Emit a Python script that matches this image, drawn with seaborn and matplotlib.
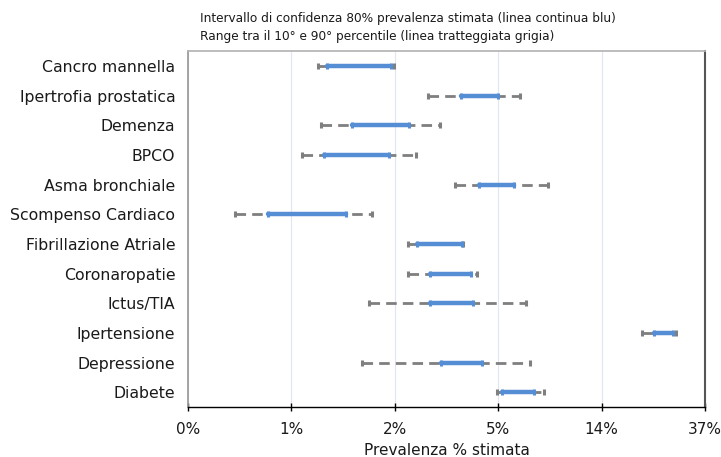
import numpy as np
import pandas as pd
import matplotlib
matplotlib.use("Agg")
import matplotlib.pyplot as plt
import seaborn as sns

# Dati (prevalenza in %)
patologie = [
    "Cancro mannella", "Ipertrofia prostatica", "Demenza", "BPCO",
    "Asma bronchiale", "Scompenso Cardiaco", "Fibrillazione Atriale",
    "Coronaropatie", "Ictus/TIA", "Ipertensione", "Depressione", "Diabete",
]
p10 = [0.87, 2.52, 0.90, 0.75, 3.27, 0.39, 2.09, 2.08, 1.43, 20.1, 1.33, 4.93]
ic_low = [0.95, 3.48, 1.21, 0.92, 4.13, 0.54, 2.27, 2.57, 2.58, 22.5, 2.86, 5.17]
ic_high = [1.76, 4.98, 2.11, 1.74, 5.78, 1.14, 3.52, 3.83, 3.89, 27.0, 4.24, 7.06]
p90 = [1.81, 6.16, 2.83, 2.24, 8.06, 1.47, 3.56, 4.05, 6.54, 27.9, 6.75, 7.75]

tick_vals = 100 * np.exp(np.arange(-6, 0))

pos = list(range(len(patologie)))
df_range = pd.DataFrame({
    "patologia": patologie * 2,
    "pos": pos * 2,
    "valore": p10 + p90,
})
df_ic = pd.DataFrame({
    "patologia": patologie * 2,
    "pos": pos * 2,
    "valore": ic_low + ic_high,
})

sns.set_theme(style="white")
plt.rcParams["font.family"] = ["DejaVu Sans"]

fig = plt.figure(figsize=(7.21, 4.57), dpi=100)
ax = fig.add_axes([0.2607, 0.1094, 0.7171, 0.779])

grigio = "#7f7f7f"
blu = "#558ed5"

sns.lineplot(
    data=df_range, x="valore", y="pos", units="patologia", estimator=None,
    sort=False, color=grigio, linewidth=2.0, dashes=False, ax=ax,
    marker="|", markersize=5, markeredgewidth=2.2, markeredgecolor=grigio,
)
for line in ax.lines:
    line.set_dashes((3.8, 2.2))

sns.lineplot(
    data=df_ic, x="valore", y="pos", units="patologia", estimator=None,
    sort=False, color=blu, linewidth=3.2, ax=ax,
    marker="|", markersize=4, markeredgewidth=2.2, markeredgecolor=blu,
)

ax.set_xscale("log", base=np.e)
ax.set_xlim(tick_vals[0], tick_vals[-1])
ax.set_xticks(tick_vals)
ax.set_xticklabels([f"{t:.0f}%" for t in tick_vals])
ax.minorticks_off()
ax.set_ylim(len(patologie) - 0.5, -0.5)
ax.set_yticks(pos)
ax.set_yticklabels(patologie)

ax.grid(axis="x", color="#dfe5f2", linewidth=0.8)
ax.grid(axis="y", visible=False)
ax.set_axisbelow(True)

ax.tick_params(axis="y", length=0, pad=9, labelsize=11.3, labelcolor="#1a1a1a")
ax.tick_params(axis="x", direction="inout", length=6, width=1, color="black",
               pad=8, labelsize=11, labelcolor="#1a1a1a", bottom=True)

ax.spines["left"].set_color("#9a9a9a")
ax.spines["top"].set_color("#b5b5b5")
ax.spines["right"].set_color("#555555")
ax.spines["right"].set_linewidth(1.5)
ax.spines["bottom"].set_color("black")
ax.spines["bottom"].set_linewidth(1.0)

ax.set_xlabel("Prevalenza % stimata", fontsize=11, color="#1a1a1a", labelpad=4)
ax.set_ylabel("")

fig.text(0.2774, 0.96, "Intervallo di confidenza 80% prevalenza stimata (linea continua blu)",
         fontsize=8.7, color="#1a1a1a", va="center", ha="left")
fig.text(0.2774, 0.921, "Range tra il 10° e 90° percentile (linea tratteggiata grigia)",
         fontsize=8.7, color="#1a1a1a", va="center", ha="left")

fig.savefig("out.png", dpi=100)
